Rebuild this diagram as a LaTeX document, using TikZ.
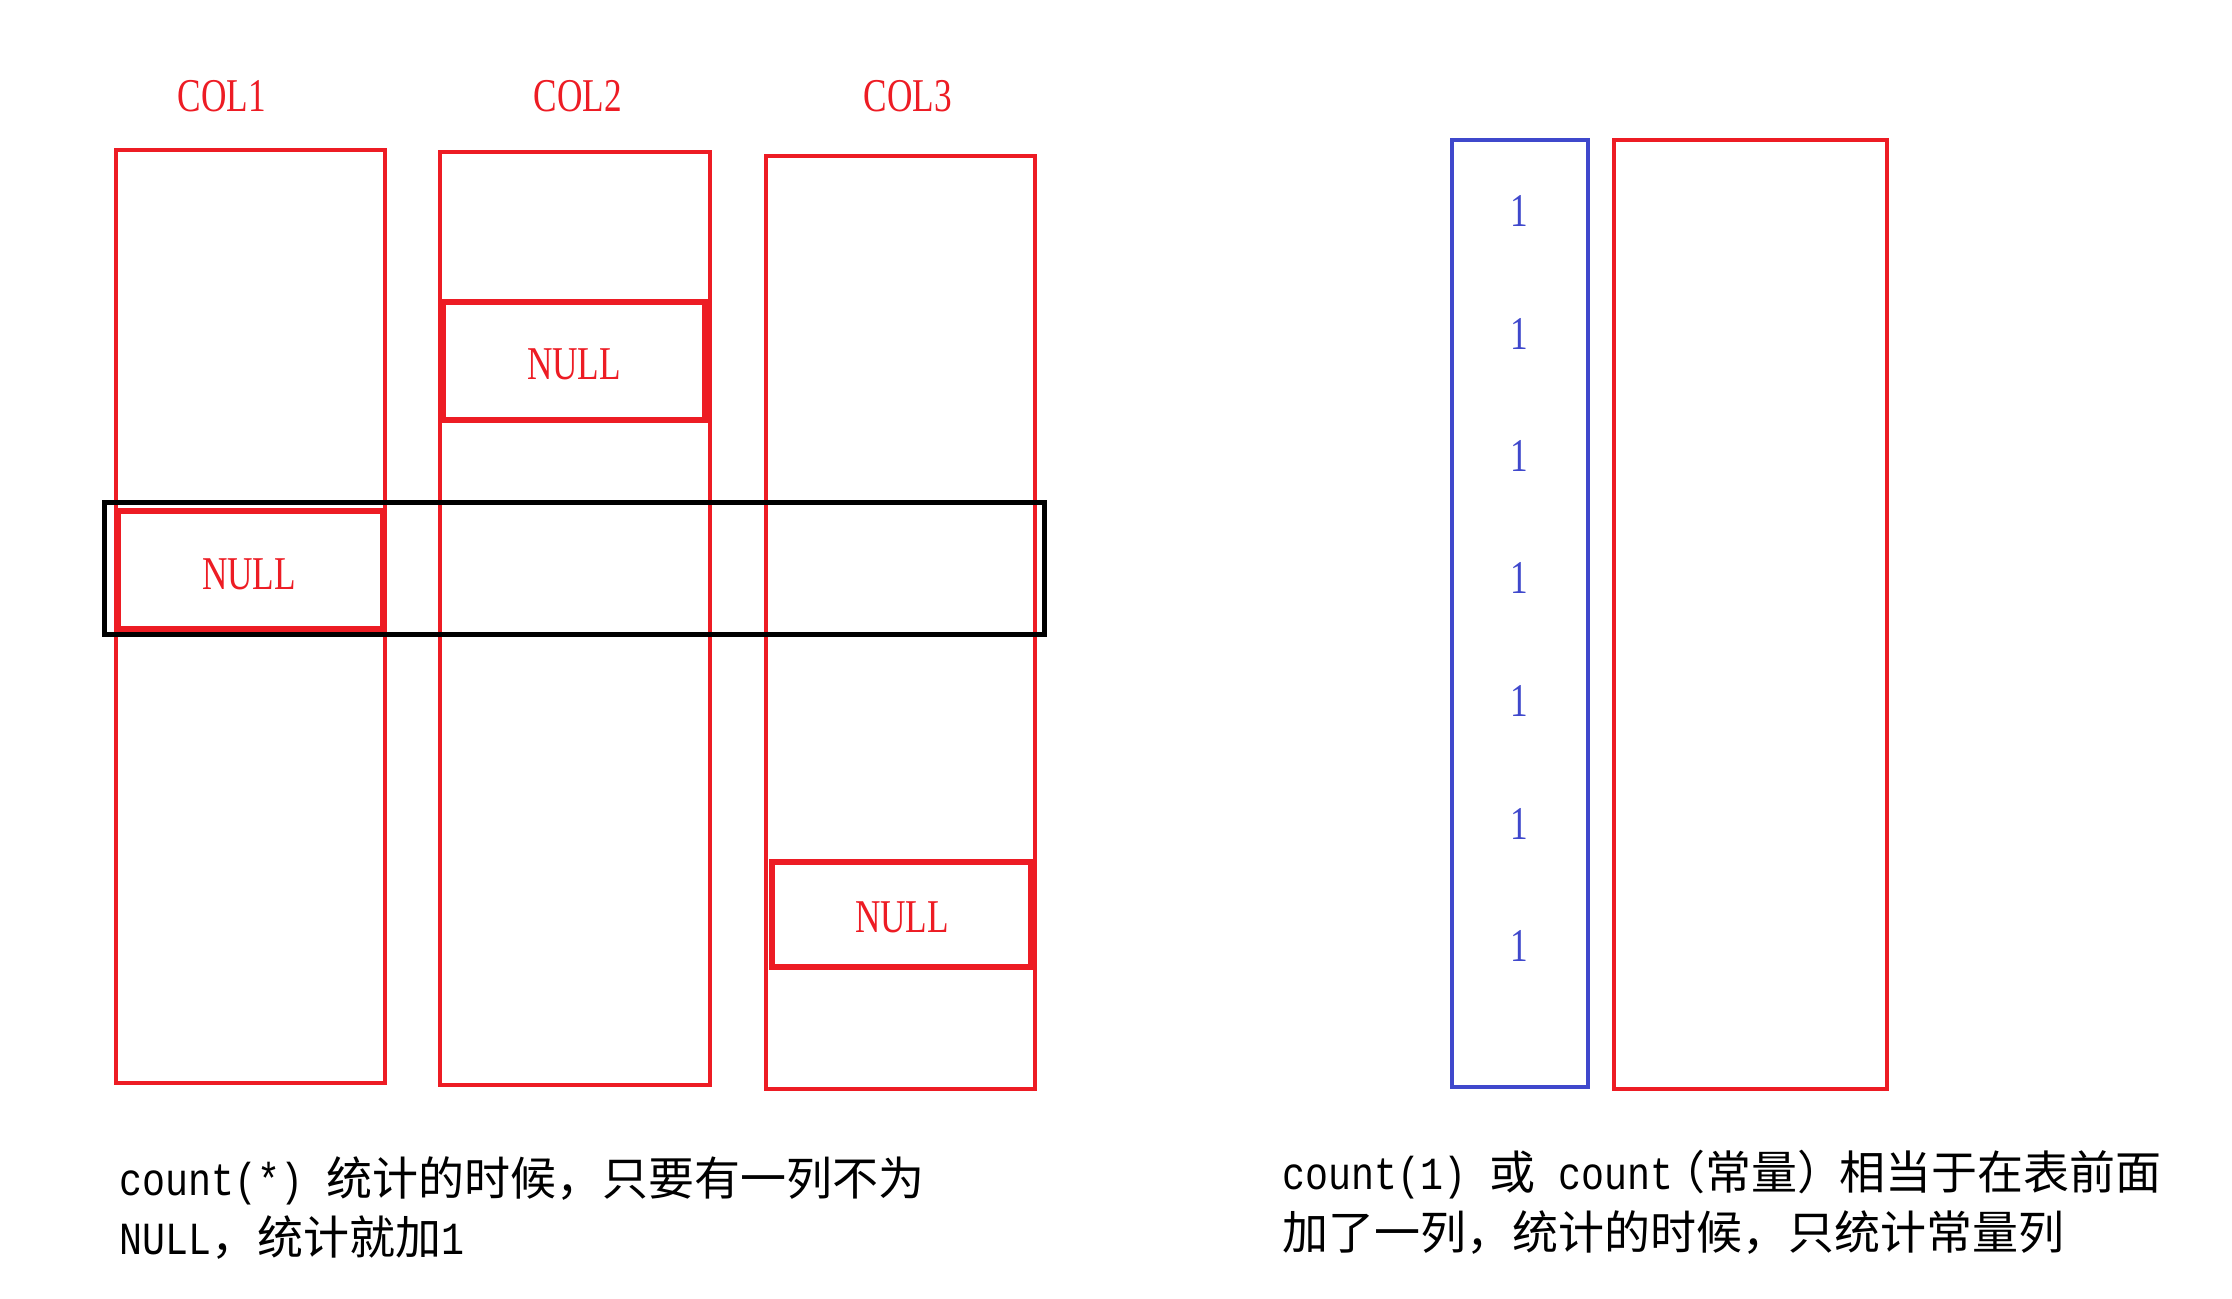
\documentclass[tikz,border=0pt]{standalone}
\usepackage{fontspec}
\newfontfamily\cjk{Noto Sans CJK SC}
\newfontfamily\latm{Liberation Mono}[FakeStretch=0.833]
\newfontfamily\labf{Liberation Serif}[FakeStretch=0.75]
\definecolor{pred}{HTML}{ED1C24}
\definecolor{pblue}{HTML}{3F48CC}
\begin{document}
\begin{tikzpicture}[x=0.5pt,y=-0.5pt,
  colbox/.style={draw=pred,line width=2.2pt},
  nullbox/.style={draw=pred,line width=2.6pt},
  rowbox/.style={draw=black,line width=2.5pt},
  onebox/.style={draw=pblue,line width=2.2pt},
  lab/.style={text=pred,font=\labf\fontsize{23.5}{28}\selectfont,inner sep=0pt},
  one/.style={text=pblue,font=\labf\fontsize{23.5}{28}\selectfont,inner sep=0pt},
  note/.style={anchor=base west,inner sep=0pt,font=\cjk\fontsize{23}{28}\selectfont}]
\useasboundingbox (0,0) rectangle (2232,1298);
% column boxes
\draw[colbox] (116,150) rectangle (385,1083);
\draw[colbox] (440,152) rectangle (710,1085);
\draw[colbox] (766,156) rectangle (1035,1089);
% NULL cells
\draw[nullbox] (443,302) rectangle (705,420);
\draw[nullbox] (118,511) rectangle (383,629);
\draw[nullbox] (772,862) rectangle (1031,967);
% highlighted row
\draw[rowbox] (104,502) rectangle (1044,634);
% right side
\draw[onebox] (1452,140) rectangle (1588,1087);
\draw[colbox] (1614,140) rectangle (1887,1089);
% labels
\node[lab] (l1) at (222,96) {COL1};
\node[lab] (l2) at (578,96) {COL2};
\node[lab] (l3) at (908,96) {COL3};
\node[lab] (n2) at (574,364) {NULL};
\node[lab] (n1) at (249,574) {NULL};
\node[lab] (n3) at (902,917) {NULL};
\foreach \i [count=\k] in {211,334,456,578,701,824,946}
  \node[one] (o\k) at (1519,\i) {1};
% notes
\node[note] (t1) at (119,1195) {{\latm count(*) }统计的时候，只要有一列不为};
\node[note] (t2) at (119,1254) {{\latm NULL}，统计就加{\latm 1}};
\node[note] (t3) at (1282,1189) {{\latm count(1) }或{\latm\ count}\kern-7pt（常量）\kern-2pt相当于在表前面};
\node[note] (t4) at (1282,1249) {加了一列，统计的时候，只统计常量列};
\end{tikzpicture}
\end{document}
